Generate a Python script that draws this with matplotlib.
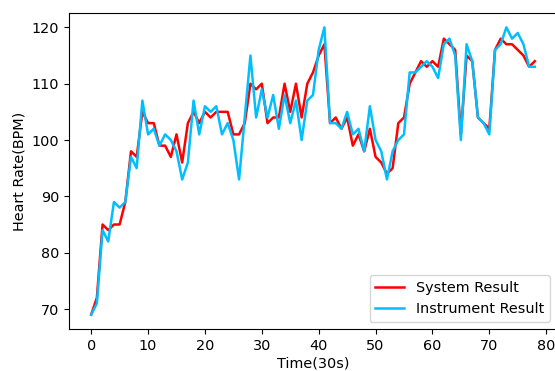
import numpy as np
import matplotlib
matplotlib.use('Agg')
import matplotlib.pyplot as plt

# heart rate readings every 30 s
time_idx = list(range(79))
system_result = [69, 72, 85, 84, 85, 85, 89, 98, 97, 105,
                 103, 103, 99, 99, 97, 101, 96, 103, 105, 103,
                 105, 104, 105, 105, 105, 101, 101, 103, 110, 109,
                 110, 103, 104, 104, 110, 105, 110, 104, 110, 112,
                 115, 117, 103, 104, 102, 104, 99, 101, 98, 102,
                 97, 96, 94, 95, 103, 104, 110, 112, 114, 113,
                 114, 113, 118, 117, 116, 101, 115, 114, 104, 103,
                 102, 116, 118, 117, 117, 116, 115, 113, 114]
instrument_result = [69, 71, 84, 82, 89, 88, 89, 97, 95, 107,
                     101, 102, 99, 101, 100, 98, 93, 96, 107, 101,
                     106, 105, 106, 101, 103, 100, 93, 104, 115, 104,
                     109, 104, 108, 102, 108, 103, 107, 100, 107, 108,
                     116, 120, 103, 103, 102, 105, 101, 102, 98, 106,
                     100, 98, 93, 98, 100, 101, 112, 112, 113, 114,
                     113, 111, 117, 118, 115, 100, 117, 114, 104, 103,
                     101, 116, 117, 120, 118, 119, 117, 113, 113]

plt.rcParams['font.size'] = 10.4

fig = plt.figure(figsize=(5.55, 3.71), dpi=100)
ax = fig.add_axes([69/555, 42/371, 488/555, 316/371])

ax.plot(time_idx, system_result, color='red', lw=1.8, label='System Result')
ax.plot(time_idx, instrument_result, color='deepskyblue', lw=1.8, label='Instrument Result')

ax.set_xticks(np.arange(0, 81, 10))
ax.set_yticks(np.arange(70, 121, 10))
ax.set_xlabel('Time(30s)', labelpad=3)
ax.set_ylabel('Heart Rate(BPM)')
ax.legend(loc='lower right')

fig.savefig('out.png', dpi=100)
